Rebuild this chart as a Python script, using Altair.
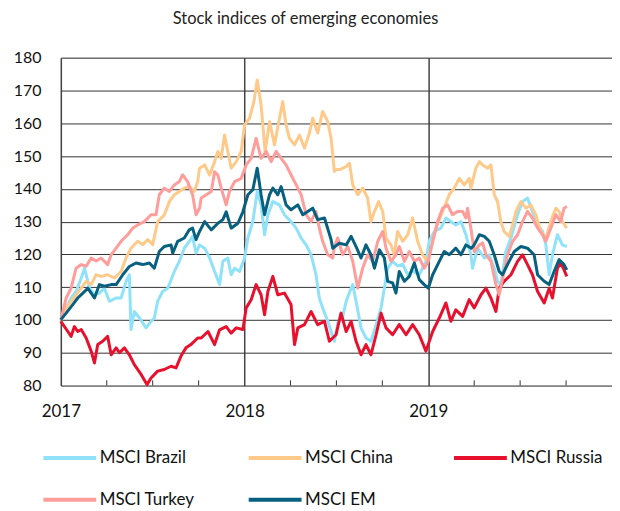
import altair as alt
import pandas as pd

# ---- data (decimal year, index value; Jan 2017 = 100) ----
brazil = [(2017.000,100.1),(2017.029,103.7),(2017.056,106.7),(2017.083,108.7),(2017.111,112.8),(2017.129,115.8),(2017.156,109.7),(2017.183,107.7),(2017.210,108.2),(2017.237,109.7),
          (2017.264,105.7),(2017.301,106.7),(2017.328,106.7),(2017.355,111.8),(2017.373,113.8),(2017.382,97.1),(2017.400,102.6),(2017.428,100.6),(2017.464,97.6),(2017.491,99.6),
          (2017.509,100.6),(2017.527,105.7),(2017.554,108.7),(2017.582,109.7),(2017.618,114.8),(2017.645,117.9),(2017.672,121.9),(2017.699,124.0),(2017.717,125.5),(2017.736,120.4),
          (2017.755,122.9),(2017.783,121.9),(2017.810,118.9),(2017.837,114.8),(2017.864,110.8),(2017.882,117.9),(2017.909,118.9),(2017.927,113.8),(2017.946,115.8),(2017.973,114.8),
          (2018.000,118.9),(2018.018,125.0),(2018.045,130.0),(2018.069,139.2),(2018.090,135.1),(2018.109,126.0),(2018.127,132.1),(2018.154,136.1),(2018.190,135.1),(2018.217,132.1),
          (2018.253,130.0),(2018.281,128.0),(2018.308,125.0),(2018.335,122.9),(2018.362,119.9),(2018.389,113.8),(2018.407,106.7),(2018.425,103.7),(2018.453,99.6),(2018.471,96.5),
          (2018.489,93.5),(2018.507,99.0),(2018.534,101.0),(2018.553,105.7),(2018.580,109.7),(2018.589,110.8),(2018.607,105.7),(2018.634,97.6),(2018.661,94.5),(2018.688,93.5),
          (2018.716,98.6),(2018.743,103.7),(2018.761,109.7),(2018.779,115.8),(2018.806,117.9),(2018.833,116.5),(2018.861,117.0),(2018.888,113.8),(2018.915,115.0),(2018.951,113.8),
          (2018.987,117.9),(2019.005,124.0),(2019.033,127.0),(2019.069,128.0),(2019.096,131.1),(2019.123,130.0),(2019.150,129.0),(2019.178,130.0),(2019.205,126.0),(2019.232,119.9),
          (2019.241,115.8),(2019.268,121.9),(2019.305,118.9),(2019.332,119.9),(2019.359,115.8),(2019.377,111.8),(2019.395,110.8),(2019.422,120.9),(2019.450,125.0),(2019.486,132.1),
          (2019.513,136.1),(2019.540,137.2),(2019.567,133.1),(2019.595,129.0),(2019.622,127.0),(2019.640,122.9),(2019.658,113.8),(2019.676,119.9),(2019.703,126.0),(2019.730,122.9),
          (2019.754,122.4)]

china = [(2017.000,100.0),(2017.029,103.7),(2017.056,105.7),(2017.083,107.7),(2017.111,109.7),(2017.138,111.8),(2017.165,110.8),(2017.192,113.8),(2017.219,113.3),(2017.255,113.8),
         (2017.292,112.8),(2017.328,114.8),(2017.355,118.9),(2017.382,121.9),(2017.418,124.0),(2017.446,123.0),(2017.473,124.5),(2017.500,123.0),(2017.527,130.0),(2017.546,131.1),
         (2017.563,132.0),(2017.591,136.1),(2017.618,138.2),(2017.645,139.2),(2017.672,140.2),(2017.699,140.7),(2017.726,139.2),(2017.745,142.2),(2017.755,146.3),(2017.783,147.3),
         (2017.810,144.2),(2017.837,148.3),(2017.855,151.4),(2017.873,149.3),(2017.891,156.4),(2017.909,151.4),(2017.927,146.3),(2017.955,148.3),(2017.982,151.4),(2018.000,159.5),
         (2018.027,161.5),(2018.051,166.6),(2018.069,173.2),(2018.090,165.6),(2018.112,151.4),(2018.136,160.5),(2018.163,153.4),(2018.190,161.5),(2018.208,166.6),(2018.226,159.5),
         (2018.244,155.4),(2018.272,153.4),(2018.299,156.4),(2018.326,152.4),(2018.353,157.0),(2018.371,161.5),(2018.398,157.0),(2018.425,163.6),(2018.453,160.5),(2018.471,155.4),
         (2018.489,145.3),(2018.498,145.8),(2018.525,146.0),(2018.553,146.8),(2018.571,147.8),(2018.589,141.2),(2018.616,138.2),(2018.643,140.2),(2018.670,137.2),(2018.688,130.0),
         (2018.707,133.1),(2018.730,136.1),(2018.752,133.1),(2018.770,125.0),(2018.797,122.9),(2018.815,119.9),(2018.833,127.0),(2018.861,124.0),(2018.888,126.0),(2018.915,131.1),
         (2018.942,124.0),(2018.969,119.9),(2018.996,117.9),(2019.015,121.9),(2019.042,128.0),(2019.078,133.1),(2019.114,138.2),(2019.141,140.2),(2019.169,143.2),(2019.196,141.2),
         (2019.223,143.2),(2019.232,140.2),(2019.259,146.3),(2019.278,148.3),(2019.296,147.3),(2019.323,146.3),(2019.341,147.3),(2019.359,138.2),(2019.377,136.1),(2019.395,130.0),
         (2019.413,127.0),(2019.441,125.5),(2019.459,129.0),(2019.477,133.1),(2019.504,136.1),(2019.531,134.1),(2019.558,135.1),(2019.585,132.1),(2019.613,127.0),(2019.640,125.0),
         (2019.667,130.0),(2019.694,134.1),(2019.712,133.1),(2019.730,130.0),(2019.754,128.0)]

russia = [(2017.000,99.6),(2017.038,96.5),(2017.056,95.0),(2017.074,98.0),(2017.092,96.5),(2017.111,97.1),(2017.138,94.5),(2017.165,90.5),(2017.183,86.9),(2017.201,92.5),
          (2017.228,93.5),(2017.255,95.0),(2017.274,89.4),(2017.301,91.5),(2017.319,90.0),(2017.346,91.5),(2017.373,89.4),(2017.400,86.4),(2017.437,83.4),(2017.469,80.3),
          (2017.491,82.3),(2017.527,84.4),(2017.563,84.9),(2017.600,85.9),(2017.627,85.4),(2017.654,89.0),(2017.681,91.5),(2017.708,92.5),(2017.745,94.5),(2017.764,94.5),
          (2017.801,96.5),(2017.837,92.5),(2017.864,97.0),(2017.900,98.0),(2017.927,96.0),(2017.955,97.6),(2017.991,97.1),(2018.009,103.7),(2018.036,106.2),(2018.063,110.8),
          (2018.090,107.7),(2018.109,101.6),(2018.127,108.7),(2018.154,113.3),(2018.181,107.7),(2018.217,108.2),(2018.253,104.7),(2018.272,92.5),(2018.290,97.6),(2018.326,98.6),
          (2018.362,102.6),(2018.398,98.6),(2018.435,99.6),(2018.462,93.5),(2018.498,95.5),(2018.525,102.1),(2018.553,96.5),(2018.580,99.6),(2018.607,93.5),(2018.634,89.4),
          (2018.661,92.5),(2018.688,89.4),(2018.716,95.5),(2018.743,102.1),(2018.770,97.6),(2018.806,95.5),(2018.842,98.6),(2018.879,95.5),(2018.915,98.6),(2018.951,95.5),
          (2018.987,90.5),(2019.024,96.5),(2019.060,100.6),(2019.096,105.2),(2019.123,99.6),(2019.150,103.1),(2019.187,101.1),(2019.223,106.2),(2019.250,103.7),(2019.287,107.7),
          (2019.314,109.7),(2019.341,106.7),(2019.368,102.6),(2019.386,109.7),(2019.413,111.8),(2019.450,113.8),(2019.486,117.9),(2019.513,119.9),(2019.540,116.9),(2019.567,113.8),
          (2019.595,108.7),(2019.631,105.2),(2019.658,109.7),(2019.676,106.7),(2019.703,115.8),(2019.721,117.4),(2019.739,115.3),(2019.754,113.3)]

turkey = [(2017.000,100.0),(2017.029,106.7),(2017.056,109.7),(2017.083,115.8),(2017.111,116.9),(2017.138,116.4),(2017.165,118.9),(2017.192,118.0),(2017.219,118.9),(2017.255,116.9),
          (2017.274,119.9),(2017.301,121.9),(2017.328,124.0),(2017.364,126.0),(2017.391,128.0),(2017.418,129.0),(2017.455,130.0),(2017.491,132.1),(2017.518,132.1),(2017.536,138.2),
          (2017.563,140.2),(2017.591,139.2),(2017.618,141.2),(2017.645,142.2),(2017.663,144.3),(2017.690,142.2),(2017.717,138.2),(2017.736,132.1),(2017.755,134.1),(2017.764,137.2),
          (2017.792,138.2),(2017.819,139.2),(2017.837,145.2),(2017.855,144.2),(2017.873,140.2),(2017.900,135.1),(2017.918,139.2),(2017.946,142.2),(2017.982,143.2),(2018.009,147.3),
          (2018.036,149.3),(2018.063,155.4),(2018.090,149.3),(2018.118,151.4),(2018.145,148.3),(2018.172,151.4),(2018.199,149.3),(2018.226,147.3),(2018.253,144.3),(2018.281,141.2),
          (2018.308,138.2),(2018.335,132.1),(2018.362,130.0),(2018.389,133.1),(2018.407,128.0),(2018.425,124.0),(2018.453,119.9),(2018.480,118.9),(2018.489,122.4),(2018.507,125.0),
          (2018.534,119.9),(2018.562,122.4),(2018.589,117.9),(2018.616,109.7),(2018.643,115.8),(2018.670,119.9),(2018.698,117.9),(2018.725,124.0),(2018.752,127.0),(2018.770,121.9),
          (2018.797,117.9),(2018.824,119.9),(2018.842,122.4),(2018.870,117.9),(2018.897,120.9),(2018.924,117.9),(2018.951,118.9),(2018.978,115.8),(2019.000,117.9),(2019.024,124.0),
          (2019.051,130.0),(2019.078,134.1),(2019.105,135.1),(2019.132,132.1),(2019.159,133.1),(2019.187,133.1),(2019.205,131.1),(2019.214,134.1),(2019.232,128.0),(2019.250,120.9),
          (2019.278,122.9),(2019.296,123.5),(2019.314,119.9),(2019.341,117.9),(2019.368,110.8),(2019.386,107.7),(2019.413,114.8),(2019.431,119.9),(2019.459,124.0),(2019.486,126.0),
          (2019.513,130.0),(2019.540,133.1),(2019.567,131.1),(2019.595,128.0),(2019.622,126.0),(2019.640,124.0),(2019.667,128.0),(2019.694,132.1),(2019.721,130.0),(2019.739,134.1),
          (2019.754,134.6)]

em = [(2017.000,100.1),(2017.029,102.1),(2017.065,104.7),(2017.092,106.7),(2017.120,108.2),(2017.147,109.7),(2017.183,106.7),(2017.210,110.8),(2017.237,110.3),(2017.274,110.8),
      (2017.301,110.8),(2017.337,113.8),(2017.373,116.3),(2017.409,117.4),(2017.446,116.9),(2017.482,117.4),(2017.509,115.8),(2017.536,120.9),(2017.563,122.4),(2017.600,122.9),
      (2017.609,120.4),(2017.636,124.0),(2017.672,125.0),(2017.699,127.5),(2017.717,128.0),(2017.736,124.5),(2017.755,127.0),(2017.783,130.0),(2017.819,127.5),(2017.855,129.5),
      (2017.882,130.6),(2017.900,133.0),(2017.927,128.0),(2017.964,129.5),(2017.991,133.0),(2018.018,138.2),(2018.045,139.7),(2018.069,146.3),(2018.090,138.2),(2018.109,132.1),
      (2018.136,138.2),(2018.154,140.2),(2018.181,138.2),(2018.199,140.7),(2018.226,135.1),(2018.253,133.6),(2018.290,135.1),(2018.317,132.1),(2018.344,133.1),(2018.371,134.1),
      (2018.398,130.6),(2018.435,131.1),(2018.471,124.5),(2018.480,121.9),(2018.516,123.4),(2018.553,122.9),(2018.580,125.5),(2018.607,122.4),(2018.634,118.9),(2018.661,122.9),
      (2018.688,119.9),(2018.707,115.8),(2018.734,121.4),(2018.761,118.9),(2018.779,111.8),(2018.806,111.3),(2018.824,108.2),(2018.842,114.8),(2018.870,111.8),(2018.897,113.3),
      (2018.924,117.4),(2018.951,112.3),(2018.978,110.8),(2019.000,109.7),(2019.024,113.8),(2019.060,117.9),(2019.087,120.9),(2019.114,119.9),(2019.150,121.9),(2019.178,119.9),
      (2019.205,122.9),(2019.234,121.9),(2019.250,122.9),(2019.278,126.0),(2019.305,125.5),(2019.332,124.0),(2019.359,119.9),(2019.386,114.8),(2019.404,113.8),(2019.431,116.9),
      (2019.468,120.9),(2019.504,122.4),(2019.540,121.9),(2019.576,119.9),(2019.595,113.8),(2019.631,111.8),(2019.658,110.8),(2019.685,114.8),(2019.712,118.4),(2019.739,116.9),
      (2019.754,115.3)]

series_names = ["MSCI Brazil", "MSCI China", "MSCI Russia", "MSCI Turkey", "MSCI EM"]
series_colors = ["#8FE2FA", "#FFC98A", "#E8112D", "#FF9D9B", "#07607F"]
year_ticks = [2017, 2018, 2019]
quarter_ticks = [2017.25, 2017.5, 2017.75, 2018.25, 2018.5, 2018.75, 2019.25, 2019.5, 2019.75]
y_ticks = [80, 90, 100, 110, 120, 130, 140, 150, 160, 170, 180]
title_text = "Stock indices of emerging economies"

rows = []
for name, pts in zip(series_names, [brazil, china, russia, turkey, em]):
    for t, v in pts:
        rows.append({"series": name, "t": t, "v": v})
df = pd.DataFrame(rows)
ticks_df = pd.DataFrame({"t": quarter_ticks, "lo": [80] * len(quarter_ticks),
                         "hi": [81.6] * len(quarter_ticks)})

FONT = "Lato"
x_scale = alt.Scale(domain=[2017, 2020], nice=False, zero=False)
y_scale = alt.Scale(domain=[80, 180], nice=False, zero=False)

x_axis = alt.Axis(values=year_ticks, format="d", title=None, grid=True,
                  gridColor="#444", gridWidth=1.5, ticks=False, domain=False,
                  labelFontSize=17, labelFont=FONT, labelPadding=18,
                  labelColor="#111", labelOverlap=False, labelFlush=False)
y_axis = alt.Axis(values=y_ticks, title=None, grid=True, gridColor="#333",
                  gridWidth=1, ticks=False, domain=False, labelFontSize=16,
                  labelFont=FONT, labelPadding=20, labelColor="#111",
                  labelOverlap=False)

lines = alt.Chart(df).mark_line(strokeWidth=3, strokeJoin="round").encode(
    x=alt.X("t:Q", scale=x_scale, axis=x_axis),
    y=alt.Y("v:Q", scale=y_scale, axis=y_axis),
    color=alt.Color("series:N", sort=series_names,
                    scale=alt.Scale(domain=series_names, range=series_colors),
                    legend=alt.Legend(title=None, orient="none", legendX=-21, legendY=393,
                                      direction="horizontal", columns=3,
                                      symbolType="M-1,0H9.6", symbolSize=100,
                                      symbolStrokeWidth=4, labelFontSize=17,
                                      labelFont=FONT, labelColor="#111", labelOffset=43,
                                      columnPadding=45, rowPadding=24, gridAlign="all",
                                      padding=0)),
)

qticks = alt.Chart(ticks_df).mark_rule(color="#333", strokeWidth=1).encode(
    x=alt.X("t:Q", scale=x_scale, axis=x_axis),
    y=alt.Y("lo:Q", scale=y_scale, axis=y_axis),
    y2="hi:Q",
)

chart = alt.layer(lines, qticks).properties(
    width=553,
    height=329,
    title=alt.TitleParams(title_text, fontSize=16.5, font=FONT, fontWeight="normal",
                          color="#222", anchor="middle", dx=-31, offset=22),
    padding={"left": 53, "top": 49, "right": 0, "bottom": 122},
    autosize=alt.AutoSizeParams(type="none"),
).configure_view(stroke="#333", strokeWidth=1).configure(background="white")

chart.save("out.html", embed_options={"renderer": "svg", "actions": False})
